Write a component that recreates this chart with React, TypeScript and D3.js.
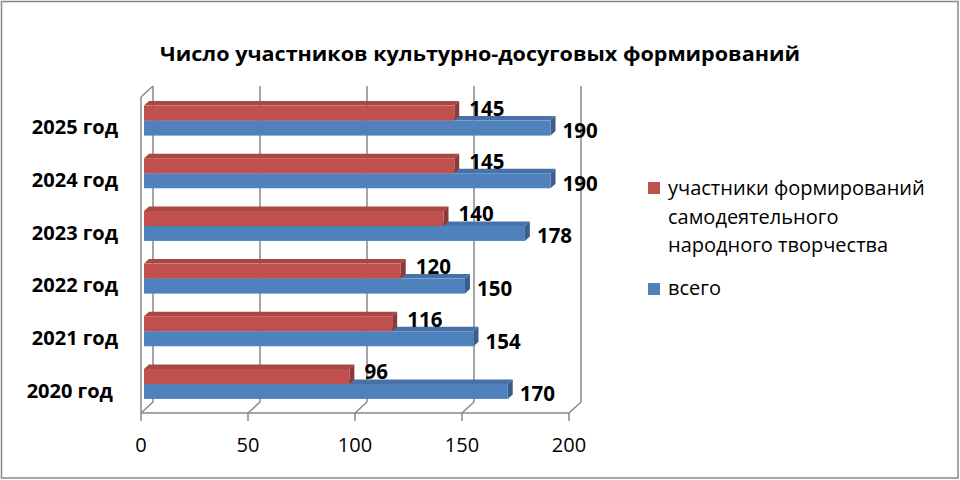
import React from 'react';
import * as d3 from 'd3';

// Chart values
const categories = ['2020 год ', '2021 год', '2022 год', '2023 год', '2024 год', '2025 год'];
const amateurValues = [96, 116, 120, 140, 145, 145];
const totalValues = [170, 154, 150, 178, 190, 190];
const xTicks = [0, 50, 100, 150, 200];
const titleText = 'Число участников культурно-досуговых формирований';
const amateurLegend = ['участники формирований', 'самодеятельного', 'народного творчества'];
const totalLegend = 'всего';

const W = 960;
const H = 480;
const FONT = '"Open Sans", "Noto Sans", "DejaVu Sans", sans-serif';
const GRID = '#898989';

// 3D depth of the plot box
const DX = 12;
const DY = -11;
const F0 = 0.25; // bar front depth fraction
const F1 = 0.66; // bar back depth fraction

const RED = '#C0504D';
const BLUE = '#4F81BD';

interface BarProps {
  x0: number;
  x1: number;
  y0: number;
  y1: number;
  color: string;
}

const Bar3D: React.FC<BarProps> = ({ x0, x1, y0, y1, color }) => {
  const ox = F0 * DX;
  const oy = F0 * DY;
  const dx = (F1 - F0) * DX;
  const dy = (F1 - F0) * DY;
  const xa = x0 + ox;
  const xb = x1 + ox;
  const ya = y0 + oy;
  const yb = y1 + oy;
  const base = d3.color(color)!;
  const top = base.darker(0.35).formatHex();
  const side = base.darker(0.9).formatHex();
  const pts = (p: number[][]) => p.map(q => q.join(',')).join(' ');
  return (
    <g>
      <polygon points={pts([[xa, ya], [xb, ya], [xb + dx, ya + dy], [xa + dx, ya + dy]])} fill={top} />
      <polygon points={pts([[xb, ya], [xb + dx, ya + dy], [xb + dx, yb + dy], [xb, yb]])} fill={side} />
      <rect x={xa} y={ya} width={xb - xa} height={yb - ya} fill={color} />
    </g>
  );
};

export default function App() {
  const x = d3.scaleLinear().domain([0, 200]).range([141, 569]);
  const y = d3.scaleBand<string>()
    .domain(categories.slice().reverse())
    .range([97, 413]);
  const barH = 15;

  const yTop = y.range()[0];
  const yBot = y.range()[1];

  return (
    <svg
      width={W}
      height={H}
      style={{ position: 'absolute', left: 0, top: 0, background: '#fff' }}
      fontFamily={FONT}
    >
      <rect x={1.5} y={1.5} width={W - 3.5} height={H - 3.5} fill="#fff" stroke={GRID} strokeWidth={1.5} />

      <text x={160} y={61} fontSize={20} fontWeight="bold" textLength={640} lengthAdjust="spacingAndGlyphs">
        {titleText}
      </text>

      {/* walls and floor */}
      <g stroke={GRID} strokeWidth={1.5} fill="none">
        {xTicks.map(t => (
          <line key={'g' + t} x1={x(t) + DX} x2={x(t) + DX} y1={yTop + DY} y2={yBot + DY} />
        ))}
        {xTicks.map(t => (
          <line key={'f' + t} x1={x(t)} x2={x(t) + DX} y1={yBot} y2={yBot + DY} />
        ))}
        {xTicks.map(t => (
          <line key={'t' + t} x1={x(t)} x2={x(t)} y1={yBot} y2={yBot + 8} />
        ))}
        <line x1={x(0)} x2={x(200)} y1={yBot} y2={yBot} />
        <line x1={x(0)} x2={x(0)} y1={yTop} y2={yBot} />
        <line x1={x(0)} x2={x(0) + DX} y1={yTop} y2={yTop + DY} />
      </g>

      {/* bars */}
      {categories.map((c, i) => {
        const mid = (y(c) as number) + y.bandwidth() / 2;
        return (
          <g key={c}>
            <Bar3D x0={x(0)} x1={x(totalValues[i])} y0={mid} y1={mid + barH} color={BLUE} />
            <Bar3D x0={x(0)} x1={x(amateurValues[i])} y0={mid - barH} y1={mid} color={RED} />
          </g>
        );
      })}

      {/* value labels */}
      {categories.map((c, i) => {
        const mid = (y(c) as number) + y.bandwidth() / 2 + F0 * DY;
        return (
          <g key={'v' + c} fontSize={20.5} fontWeight="bold">
            <text x={x(amateurValues[i]) + 18} y={mid - barH / 2 + 3}>{amateurValues[i]}</text>
            <text x={x(totalValues[i]) + 15} y={mid + barH / 2 + 10}>{totalValues[i]}</text>
          </g>
        );
      })}

      {/* category labels */}
      {categories.map(c => (
        <text
          key={'c' + c}
          x={118}
          y={(y(c) as number) + y.bandwidth() / 2 + 11}
          textAnchor="end"
          fontSize={20}
          fontWeight="bold"
          style={{ whiteSpace: 'pre' }}
        >
          {c}
        </text>
      ))}

      {/* x tick labels */}
      {xTicks.map(t => (
        <text key={'xl' + t} x={x(t)} y={452} textAnchor="middle" fontSize={20}>{t}</text>
      ))}

      {/* legend */}
      <rect x={648} y={182} width={12} height={12} fill={RED} />
      {amateurLegend.map((line, i) => (
        <text key={line} x={668} y={195 + i * 28.7} fontSize={20}>{line}</text>
      ))}
      <rect x={648} y={283} width={12} height={12} fill={BLUE} />
      <text x={668} y={295} fontSize={20}>{totalLegend}</text>
    </svg>
  );
}
